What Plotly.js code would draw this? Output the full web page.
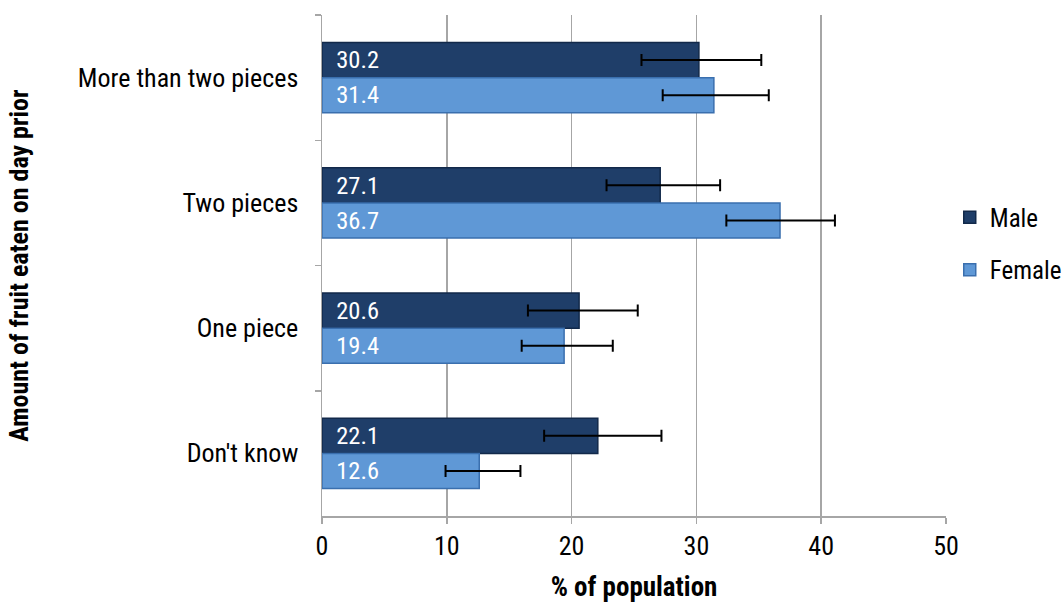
<!DOCTYPE html>
<html>
<head>
<meta charset="utf-8">
<script src="https://cdn.plot.ly/plotly-3.0.1.min.js"></script>
<style>html,body{margin:0;padding:0;background:#fff;}#chart{width:1064px;height:603px;}</style>
</head>
<body>
<div id="chart"></div>
<script>
const categories = ["More than two pieces", "Two pieces", "One piece", "Don't know"];
const maleValues = [30.2, 27.1, 20.6, 22.1];
const femaleValues = [31.4, 36.7, 19.4, 12.6];
const maleErrPlus = [5.0, 4.8, 4.7, 5.1];
const maleErrMinus = [4.6, 4.3, 4.1, 4.3];
const femaleErrPlus = [4.4, 4.4, 3.9, 3.3];
const femaleErrMinus = [4.1, 4.3, 3.4, 2.7];
const xTicks = [0, 10, 20, 30, 40, 50];

const FONT = "'Liberation Sans Narrow', 'Arial Narrow', 'Roboto Condensed', 'Liberation Sans', sans-serif";
const pad = '\u00A0\u00A0';

const male = {
  type: 'bar', orientation: 'h', name: 'Male', legendgroup: 'm',
  y: categories, x: maleValues,
  text: maleValues.map(v => pad + v.toFixed(1)),
  textposition: 'inside', insidetextanchor: 'start',
  textfont: {color: '#ffffff', size: 27, family: FONT},
  marker: {color: '#1F3E69', line: {color: '#12294A', width: 1.5}},
  error_x: {type: 'data', symmetric: false, array: maleErrPlus, arrayminus: maleErrMinus,
            color: '#000000', thickness: 2, width: 6},
  hoverinfo: 'x+y'
};
const female = {
  type: 'bar', orientation: 'h', name: 'Female', legendgroup: 'f',
  y: categories, x: femaleValues,
  text: femaleValues.map(v => pad + v.toFixed(1)),
  textposition: 'inside', insidetextanchor: 'start',
  textfont: {color: '#ffffff', size: 27, family: FONT},
  marker: {color: '#5F98D6', line: {color: '#3A6FAE', width: 1.5}},
  error_x: {type: 'data', symmetric: false, array: femaleErrPlus, arrayminus: femaleErrMinus,
            color: '#000000', thickness: 2, width: 6},
  hoverinfo: 'x+y'
};

const layout = {
  width: 1064, height: 603,
  margin: {l: 322, r: 118, t: 15, b: 87, autoexpand: false},
  paper_bgcolor: '#ffffff', plot_bgcolor: '#ffffff',
  font: {family: FONT, size: 26, color: '#000000'},
  barmode: 'group', bargap: 0.44, bargroupgap: 0,
  showlegend: true,
  legend: {x: 1.006, xanchor: 'left', y: 0.544, yanchor: 'middle', traceorder: 'grouped',
           font: {family: FONT, size: 25, color: '#000'}, tracegroupgap: 17, itemwidth: 30,
           bgcolor: 'rgba(0,0,0,0)'},
  xaxis: {
    range: [0, 50], tickvals: xTicks, ticktext: xTicks.map(String),
    showgrid: true, gridcolor: '#A6A6A6', gridwidth: 1.5,
    showline: true, linecolor: '#A6A6A6', linewidth: 1.5,
    ticks: 'outside', ticklen: 6, tickcolor: '#A6A6A6', tickwidth: 1.5,
    zeroline: false, fixedrange: true,
    tickfont: {family: FONT, size: 26, color: '#000'},
    title: {text: '<b>% of population</b>', font: {family: FONT, size: 27, color: '#000'}, standoff: 28}
  },
  yaxis: {
    type: 'category', categoryorder: 'array', categoryarray: categories,
    autorange: 'reversed',
    showline: true, linecolor: '#A6A6A6', linewidth: 1.5,
    ticks: 'outside', tickson: 'boundaries', ticklen: 6, tickcolor: '#A6A6A6', tickwidth: 1.5,
    showgrid: false, zeroline: false, fixedrange: true,
    ticklabelstandoff: 17,
    tickfont: {family: FONT, size: 26, color: '#000'},
    title: {text: '<b>Amount of fruit eaten on day prior</b>', font: {family: FONT, size: 26, color: '#000'}, standoff: 42}
  }
};

Plotly.newPlot('chart', [male, female], layout, {displayModeBar: false, staticPlot: true});
</script>
</body>
</html>
